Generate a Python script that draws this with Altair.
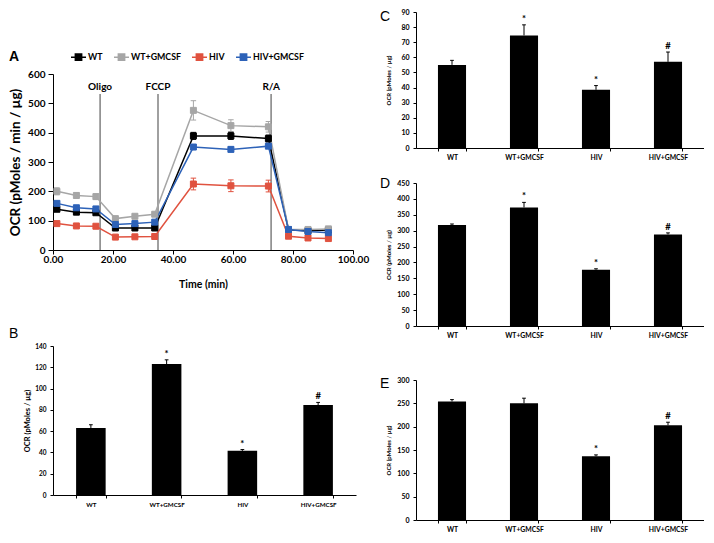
import altair as alt
import pandas as pd

groups = ["WT", "WT+GMCSF", "HIV", "HIV+GMCSF"]
series_colors = ["#000000", "#a6a6a6", "#e0523f", "#2d62b8"]

# ---- Panel A: OCR time course ----
times = [1.3, 7.8, 14.3, 20.8, 27.3, 33.9, 46.8, 59.3, 71.8, 78.5, 85.0, 91.8]
a_wt = [139, 129, 127, 75, 75, 75, 389, 389, 380, 69, 66, 68]
a_wt_gm = [200, 186, 182, 107, 115, 122, 476, 424, 420, 70, 70, 72]
a_hiv = [90, 82, 81, 44, 45, 46, 225, 219, 218, 47, 41, 39]
a_hiv_gm = [159, 144, 140, 87, 90, 95, 351, 343, 354, 70, 63, 59]
sd_wt = [8, 6, 6, 5, 5, 5, 12, 12, 12, 4, 4, 4]
sd_wt_gm = [12, 10, 9, 6, 6, 7, 33, 20, 18, 5, 5, 5]
sd_hiv = [5, 4, 4, 3, 3, 3, 20, 20, 20, 4, 4, 4]
sd_hiv_gm = [6, 6, 6, 5, 5, 6, 8, 8, 8, 5, 5, 5]

inj_labels = ["Oligo", "FCCP", "R/A"]
inj_times = [15.7, 35.0, 72.7]
inj_line_top = [532, 532, 532]
inj_label_y = [557, 557, 557]

# ---- Panels B-E: bar charts ----
b_vals = [63, 123, 41.5, 84.5]
b_err = [3, 4, 1.2, 2.5]
b_sig = ["", "*", "*", "#"]
c_vals = [55, 74.5, 38.5, 57]
c_err = [3, 7, 2.8, 6.5]
c_sig = ["", "*", "*", "#"]
d_vals = [318, 373, 177, 288]
d_err = [3, 16, 3, 5]
d_sig = ["", "*", "*", "#"]
e_vals = [254, 250, 136.5, 203]
e_err = [4, 11, 3, 6.5]
e_sig = ["", "", "*", "#"]

LETTER_FONT = "Liberation Sans"

rows = []
for g, vals, errs in zip(groups, [a_wt, a_wt_gm, a_hiv, a_hiv_gm],
                         [sd_wt, sd_wt_gm, sd_hiv, sd_hiv_gm]):
    for t, v, e in zip(times, vals, errs):
        rows.append(dict(group=g, time=t, ocr=v, lo=v - e, hi=v + e))
dfA = pd.DataFrame(rows)
dfInj = pd.DataFrame({"label": inj_labels, "time": inj_times,
                      "top": inj_line_top, "ly": inj_label_y, "zero": [0, 0, 0]})

sc = alt.Scale(domain=groups, range=series_colors)
leg = alt.Legend(orient="none", legendX=17, legendY=-25.5, direction="horizontal",
                 title=None,
                 symbolType="M-1,0H1M-0.42,-0.42H0.42V0.42H-0.42Z",
                 symbolSize=225, symbolStrokeWidth=1.5, symbolOpacity=1,
                 labelFont="Lato", labelFontSize=8.8, labelFontWeight="bold",
                 labelColor="black", labelOffset=1, columnPadding=8)

xAaxis = alt.Axis(values=[0, 20, 40, 60, 80, 100], format=".2f", title="Time (min)",
                  labelFontSize=10, labelFontWeight="bold", titleFontSize=10.5,
                  titleFontWeight="bold", tickSize=4, labelPadding=0, titlePadding=15,
                  domainWidth=1, labelFlush=False)
yAaxis = alt.Axis(values=[0, 100, 200, 300, 400, 500, 600], title="OCR (pMoles / min / µg)",
                  labelFontSize=10, labelFontWeight="bold", titleFontSize=13.5,
                  titleFontWeight="bold", tickSize=5, labelPadding=3, titlePadding=5,
                  domainWidth=1, labelFlush=False)
xs = alt.Scale(domain=[0, 100], nice=False)
ys = alt.Scale(domain=[0, 600], nice=False)

baseA = alt.Chart(dfA)
inj_rules = alt.Chart(dfInj).mark_rule(color="#808080", strokeWidth=1.5).encode(
    x=alt.X("time:Q", scale=xs, axis=xAaxis),
    y=alt.Y("zero:Q", scale=ys, axis=yAaxis), y2="top:Q")
lines = baseA.mark_line(strokeWidth=1.5).encode(
    x=alt.X("time:Q", scale=xs, axis=xAaxis),
    y=alt.Y("ocr:Q", scale=ys, axis=yAaxis),
    stroke=alt.Stroke("group:N", scale=sc, legend=leg),
    detail="group:N")
errs = baseA.mark_rule(strokeWidth=1).encode(
    x=alt.X("time:Q", scale=xs, axis=xAaxis),
    y=alt.Y("lo:Q", scale=ys, axis=yAaxis), y2="hi:Q",
    stroke=alt.Stroke("group:N", scale=sc, legend=leg))
caps_lo = baseA.mark_point(shape="stroke", size=30, strokeWidth=1, opacity=1).encode(
    x=alt.X("time:Q", scale=xs, axis=xAaxis),
    y=alt.Y("lo:Q", scale=ys, axis=yAaxis),
    stroke=alt.Stroke("group:N", scale=sc, legend=leg))
caps_hi = baseA.mark_point(shape="stroke", size=30, strokeWidth=1, opacity=1).encode(
    x=alt.X("time:Q", scale=xs, axis=xAaxis),
    y=alt.Y("hi:Q", scale=ys, axis=yAaxis),
    stroke=alt.Stroke("group:N", scale=sc, legend=leg))
pts = baseA.mark_point(shape="square", filled=True, size=36, strokeWidth=1, opacity=1).encode(
    x=alt.X("time:Q", scale=xs, axis=xAaxis),
    y=alt.Y("ocr:Q", scale=ys, axis=yAaxis),
    fill=alt.Fill("group:N", scale=sc, legend=leg),
    stroke=alt.Stroke("group:N", scale=sc, legend=leg))
inj_text = alt.Chart(dfInj).mark_text(font="Lato", fontSize=10, fontWeight="bold",
                                      color="black", baseline="middle").encode(
    x=alt.X("time:Q", scale=xs, axis=xAaxis),
    y=alt.Y("ly:Q", scale=ys, axis=yAaxis),
    text="label:N")

panelA = alt.layer(inj_rules, lines, errs, caps_lo, caps_hi, pts, inj_text).properties(
    width=300, height=176,
    title=alt.Title("A", anchor="start", frame="group", dx=-44, offset=-15,
                    font=LETTER_FONT, fontSize=14, fontWeight="bold", color="black"))


def bar_panel(letter, vals, errs_, sigs, ymax, step, w, h, lab_fs, xlab_fs,
              ytitle_fs, ytitle_pad, dx, toff):
    df = pd.DataFrame({"group": groups, "val": vals,
                       "hi": [v + e for v, e in zip(vals, errs_)], "sig": sigs})
    xax = alt.Axis(title=None, labelAngle=0, tickBand="extent", tickSize=3,
                   labelFontSize=xlab_fs, labelFontWeight="bold", labelPadding=3,
                   domainWidth=1)
    x = alt.X("group:N", sort=groups,
              scale=alt.Scale(paddingInner=0.61, paddingOuter=0.305), axis=xax)
    yax = alt.Axis(values=list(range(0, ymax + 1, step)), title="OCR (pMoles / µg)",
                   labelFontSize=lab_fs, labelFontWeight="bold", tickSize=3,
                   labelPadding=4, titleFontSize=ytitle_fs, titleFontWeight="bold",
                   titlePadding=ytitle_pad, domainWidth=1, labelFlush=False)
    yscale = alt.Scale(domain=[0, ymax], nice=False)
    base = alt.Chart(df)
    bars = base.mark_bar(color="black").encode(
        x=x, y=alt.Y("val:Q", scale=yscale, axis=yax))
    err = base.mark_rule(color="black", strokeWidth=1).encode(
        x=x, y=alt.Y("val:Q", scale=yscale, axis=yax), y2="hi:Q")
    cap = base.mark_point(shape="stroke", size=14, color="black", strokeWidth=1,
                          opacity=1).encode(
        x=x, y=alt.Y("hi:Q", scale=yscale, axis=yax))
    sig = base.mark_text(baseline="bottom", dy=-1, fontSize=9.5, fontWeight="bold",
                         font="Lato", color="black").encode(
        x=x, y=alt.Y("hi:Q", scale=yscale, axis=yax), text="sig:N")
    return alt.layer(bars, err, cap, sig).properties(
        width=w, height=h,
        title=alt.Title(letter, anchor="start", frame="group", dx=dx, offset=toff,
                        font=LETTER_FONT, fontSize=14, fontWeight="normal",
                        color="black"))


panelB = bar_panel("B", b_vals, b_err, b_sig, 140, 20, 303, 149, 6.5, 6.2, 7.5, 3, -44, 2)
panelC = bar_panel("C", c_vals, c_err, c_sig, 90, 10, 288, 136, 7, 6.8, 6, 9, -36, -16)
panelD = bar_panel("D", d_vals, d_err, d_sig, 450, 50, 288, 143, 7, 6.8, 6, 5, -36, -12)
panelE = bar_panel("E", e_vals, e_err, e_sig, 300, 50, 288, 140, 7, 6.8, 6, 5, -36, -15)

spacer = alt.Chart(pd.DataFrame({"s": [0]})).mark_point(opacity=0).properties(
    width=10, height=36)

indep_scale = dict(stroke="independent", fill="independent")
indep_leg = dict(stroke="independent", fill="independent")

inner = alt.vconcat(panelA, panelB, spacing=37).resolve_scale(**indep_scale).resolve_legend(**indep_leg)
left = alt.vconcat(spacer, inner, spacing=0).resolve_scale(**indep_scale).resolve_legend(**indep_leg)
right = alt.vconcat(alt.vconcat(panelC, panelD, spacing=16), panelE, spacing=37)

chart = alt.hconcat(left, right, spacing=11).resolve_scale(**indep_scale).resolve_legend(**indep_leg).properties(
    padding={"left": 0, "top": 0, "right": 0, "bottom": 0}
).configure(font="Lato", background="white").configure_view(stroke=None).configure_axis(
    grid=False, domainColor="black", tickColor="black", labelColor="black",
    titleColor="black", labelFont="Lato", titleFont="Lato")

chart.save("out.html", embed_options={"renderer": "svg", "actions": False})
